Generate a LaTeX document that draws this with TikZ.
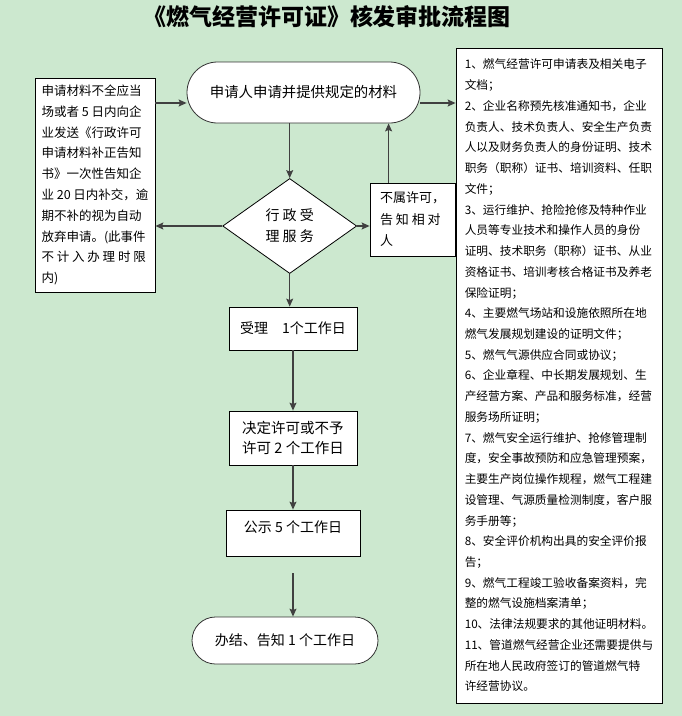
\documentclass[tikz,border=0pt]{standalone}
\usepackage{fontspec}
\usepackage{tikz}
\usetikzlibrary{calc,arrows.meta,shapes.geometric,shapes.misc}
\setmainfont{Noto Sans CJK SC}
\newcommand{\fsz}[2]{\fontsize{#1}{#2}\selectfont}
\definecolor{bg_green}{RGB}{204,232,207}
\colorlet{line_dark}{black!75}
\tikzset{
    flow_box/.style={draw=black,fill=white,line width=0.8pt,inner sep=0pt,align=left},
    flow_term/.style={flow_box,draw=black!80,rounded rectangle,align=center},
    flow_check/.style={flow_box,diamond,aspect=1.41,align=center},
    flow_arrow/.style={-{Stealth[length=8pt,width=7pt,inset=1.5pt]},line width=1.1pt,line_dark},
}

\begin{document}
\begin{tikzpicture}[x=1pt,y=-1pt]
  \fill[bg_green] (0,0) rectangle (682,716);
  \useasboundingbox (0,0) rectangle (682,716);
  \node[font=\fsz{23}{26}\bfseries] (title) at (327,17) {《燃气经营许可证》核发审批流程图};
  % main column
  \node[flow_term,minimum width=233pt,minimum height=61pt,font=\fsz{14.4}{18}] (start) at (303.5,92.5) {申请人申请并提供规定的材料};
  \node[flow_check,minimum width=134pt,minimum height=95pt,font=\fsz{14}{21}] (check) at (289.7,226) {行 政 受\\理 服 务};
  \node[flow_box,minimum width=128pt,minimum height=43pt,font=\fsz{14}{20}] (accept) at (293,328.5) {受理\hspace{14pt}1个工作日};
  \node[flow_box,minimum width=128pt,minimum height=54pt,font=\fsz{14.5}{20}] (decide) at (293,438) {决定许可或不予\\许可 2 个工作日};
  \node[flow_box,minimum width=134pt,minimum height=46pt,text depth=12pt,font=\fsz{14}{20}] (publish) at (293,533) {公示 5 个工作日};
  \node[flow_term,minimum width=186pt,minimum height=47pt,font=\fsz{14}{20}] (finish) at (285,640.5) {办结、告知 1 个工作日};
  % side boxes
  \node[flow_box,minimum width=120pt,minimum height=214pt,font=\fsz{12.5}{20.8}] (lack) at (95,185) {申请材料不全应当\\场或者 5 日内向企\\业发送《行政许可\\申请材料补正告知\\书》一次性告知企\\业 20 日内补交，逾\\期不补的视为自动\\放弃申请。(此事件\\不 计 入 办 理 时 限\\内)};
  \node[flow_box,minimum width=85pt,minimum height=73pt,font=\fsz{13}{21.5}] (reject) at (412.5,219.5) {不属许可，\\告 知 相 对\\人};
  \node[flow_box,minimum width=206pt,minimum height=655pt,font=\fsz{11.7}{20.73}] (list) at (559,375.5) {1、燃气经营许可申请表及相关电子\\文档；\\2、企业名称预先核准通知书，企业\\负责人、技术负责人、安全生产负责\\人以及财务负责人的身份证明、技术\\职务（职称）证书、培训资料、任职\\文件；\\3、运行维护、抢险抢修及特种作业\\人员等专业技术和操作人员的身份\\证明、技术职务（职称）证书、从业\\资格证书、培训考核合格证书及养老\\保险证明；\\4、主要燃气场站和设施依照所在地\\燃气发展规划建设的证明文件；\\5、燃气气源供应合同或协议；\\6、企业章程、中长期发展规划、生\\产经营方案、产品和服务标准，经营\\服务场所证明；\\7、燃气安全运行维护、抢修管理制\\度，安全事故预防和应急管理预案，\\主要生产岗位操作规程，燃气工程建\\设管理、气源质量检测制度，客户服\\务手册等；\\8、安全评价机构出具的安全评价报\\告；\\9、燃气工程竣工验收备案资料，完\\整的燃气设施档案清单；\\10、法律法规要求的其他证明材料。\\11、管道燃气经营企业还需要提供与\\所在地人民政府签订的管道燃气特\\许经营协议。};
  % connectors
  \coordinate (in_y) at (0,103);
  \draw[flow_arrow] (lack.east |- in_y) -- (start.west |- in_y);
  \draw[flow_arrow] (start.east |- in_y) -- (list.west |- in_y);
  \draw[flow_arrow] (check.north |- start.south) -- (check.north);
  \draw[flow_arrow] (check.west) -- (lack.east |- check.west);
  \draw[flow_arrow] (check.east) -- (reject.west |- check.east);
  \draw[flow_arrow] ([xshift=19pt]reject.north west) -- ([xshift=19pt]reject.north west |- start.south);
  \draw[flow_arrow] (check.south) -- (check.south |- accept.north);
  \draw[flow_arrow] (accept.south) -- (decide.north);
  \draw[flow_arrow] (decide.south) -- (publish.north);
  \draw[flow_arrow,shorten <=17pt] (publish.south) -- (publish.south |- finish.north);
\end{tikzpicture}
\end{document}
